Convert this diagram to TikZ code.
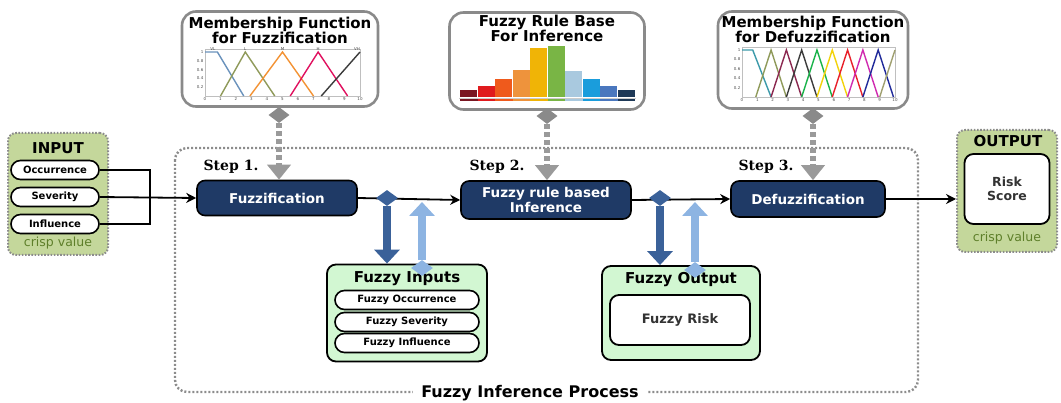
\documentclass[tikz,border=0pt]{standalone}
\usepackage{fontspec}
\setmainfont{DejaVu Sans}
\newfontfamily\stepfont{DejaVu Serif}
\usetikzlibrary{arrows.meta,shapes.geometric,shapes.misc,calc}

\definecolor{stepblue}{HTML}{1F3A66}
\definecolor{darkarrow}{HTML}{3A6199}
\definecolor{lightarrow}{HTML}{8DB4E2}
\definecolor{inputgreen}{HTML}{C4D79B}
\definecolor{crispgreen}{HTML}{5E7F2A}
\definecolor{fuzzygreen}{HTML}{D2F7D2}
\definecolor{panelgray}{HTML}{8A8A8A}
\definecolor{dashgray}{HTML}{9A9A9A}
\definecolor{framegray}{HTML}{8C8C8C}
% membership function colours
\definecolor{mfblue}{HTML}{6A92BC}
\definecolor{mfolive}{HTML}{8F9A5A}
\definecolor{mforange}{HTML}{F39233}
\definecolor{mfpink}{HTML}{E0115F}
\definecolor{mfdark}{HTML}{3C3C3C}
\definecolor{mfteal}{HTML}{3C9AAA}
\definecolor{mfwine}{HTML}{8B2850}
\definecolor{mfgreen}{HTML}{19B34A}
\definecolor{mfyellow}{HTML}{F2D20A}
\definecolor{mfred}{HTML}{E8202A}
\definecolor{mfmagenta}{HTML}{D02AB0}
\definecolor{mfnavy}{HTML}{202A9A}
\definecolor{mfkhaki}{HTML}{A0A070}
% rule base bars
\definecolor{barA}{HTML}{7A1622}
\definecolor{barB}{HTML}{E01B1E}
\definecolor{barC}{HTML}{EF5A1C}
\definecolor{barD}{HTML}{EE933C}
\definecolor{barE}{HTML}{F0B406}
\definecolor{barF}{HTML}{79B545}
\definecolor{barG}{HTML}{A9C9DF}
\definecolor{barH}{HTML}{1A9DDC}
\definecolor{barI}{HTML}{4A77BE}
\definecolor{barJ}{HTML}{1E3957}

\tikzset{
  stepbox/.style={draw=black, line width=1.6pt, fill=stepblue, rounded corners=8pt,
    text=white, font=\bfseries\fontsize{13.5}{15}\selectfont, align=center, inner sep=0pt},
  steplabel/.style={font=\stepfont\bfseries\fontsize{14}{14}\selectfont, inner sep=0pt},
  greenbox/.style={draw=framegray, line width=2pt, dash pattern=on 1.6pt off 1.6pt,
    fill=inputgreen, rounded corners=8pt, inner sep=0pt},
  fuzzbox/.style={draw=black, line width=1.8pt, fill=fuzzygreen, rounded corners=9pt, inner sep=0pt},
  whitebox/.style={draw=black, line width=1.8pt, fill=white, rounded corners=9pt, inner sep=0pt},
  pill/.style={shape=rounded rectangle, draw=black, line width=1.6pt, fill=white, inner sep=0pt,
    font=\bfseries\fontsize{10}{11}\selectfont},
  boxtitle/.style={font=\bfseries\fontsize{15}{16}\selectfont, inner sep=0pt},
  crisp/.style={text=crispgreen, font=\fontsize{12.5}{13}\selectfont, inner sep=0pt},
  panel/.style={draw=panelgray, line width=2.6pt, fill=white, rounded corners=14pt, inner sep=0pt},
  paneltitle/.style={font=\bfseries\fontsize{15}{15}\selectfont, align=center, inner sep=0pt},
  gdiam/.style={shape=diamond, fill=panelgray, inner sep=0pt, minimum width=21pt, minimum height=16pt},
  ddiam/.style={shape=diamond, fill=darkarrow, inner sep=0pt, minimum width=22pt, minimum height=16pt},
  ldiam/.style={shape=diamond, fill=lightarrow, inner sep=0pt, minimum width=22pt, minimum height=16pt},
  grayarr/.style={draw=dashgray, line width=6pt, dash pattern=on 5pt off 3pt,
    -{Triangle[length=15pt,width=23pt]}},
  darkarr/.style={draw=darkarrow, line width=8pt, -{Triangle[length=14pt,width=25pt]}},
  lightarr/.style={draw=lightarrow, line width=8pt, -{Triangle[length=14pt,width=25pt]}},
  flow/.style={draw=black, line width=1.8pt, -{Stealth[length=10pt,width=10pt]}},
  tick/.style={font=\fontsize{4}{4}\selectfont, inner sep=1pt, text=black!70},
}

\begin{document}
\begin{tikzpicture}[x=1pt,y=-1pt]
	\useasboundingbox (0,0) rectangle (1061,403);

	% fuzzy inference frame
	\draw[draw=framegray, line width=2.4pt, dash pattern=on 2pt off 2pt, rounded corners=12pt]
		(175,148) rectangle (918,392);
	\node[boxtitle, font=\bfseries\fontsize{16}{17}\selectfont, fill=white, inner xsep=8pt, inner ysep=2pt]
		(fip) at (530,393) {Fuzzy Inference Process};

	% input
	\node[greenbox, minimum width=100pt, minimum height=122pt] (inbox) at (58,194) {};
	\node[boxtitle] (intitle) at (58,148) {INPUT};
	\node[pill, minimum width=88pt, minimum height=19pt] (occ) at (55,170) {Occurrence};
	\node[pill, minimum width=88pt, minimum height=19pt] (sev) at (55,197) {Severity};
	\node[pill, minimum width=88pt, minimum height=19pt] (infl) at (55,224) {Influence};
	\node[crisp] (incrisp) at (58,243) {crisp value};
	\coordinate (jn) at (150,197);

	% steps
	\node[stepbox, minimum width=160pt, minimum height=35pt] (fuz) at (277,198) {Fuzzification};
	\node[stepbox, minimum width=170pt, minimum height=38pt] (frbi) at (546,200) {Fuzzy rule based\\Inference};
	\node[stepbox, minimum width=154pt, minimum height=36pt] (defuz) at (808,199) {Defuzzification};
	\node[steplabel] (s1) at (231,167) {Step 1.};
	\node[steplabel] (s2) at (497,167) {Step 2.};
	\node[steplabel] (s3) at (766,167) {Step 3.};

	% output
	\node[greenbox, minimum width=100pt, minimum height=122pt] (outbox) at (1007,191) {};
	\node[boxtitle] (outtitle) at (1008,141) {OUTPUT};
	\node[whitebox, minimum width=85pt, minimum height=70pt, align=center,
		font=\bfseries\fontsize{12.5}{14.5}\selectfont, text=black!80] (score) at (1007,189) {Risk\\Score};
	\node[crisp] (outcrisp) at (1007,238) {crisp value};

	% fuzzy inputs / outputs
	\node[fuzzbox, minimum width=160pt, minimum height=97pt] (fin) at (407,313) {};
	\node[boxtitle] (fintitle) at (407,279) {Fuzzy Inputs};
	\node[pill, minimum width=144pt, minimum height=19pt] (focc) at (407,300) {Fuzzy Occurrence};
	\node[pill, minimum width=144pt, minimum height=19pt] (fsev) at (407,322) {Fuzzy Severity};
	\node[pill, minimum width=144pt, minimum height=19pt] (finf) at (407,343) {Fuzzy Influence};

	\node[fuzzbox, minimum width=158pt, minimum height=94pt] (fout) at (681,313) {};
	\node[boxtitle] (fouttitle) at (681,280) {Fuzzy Output};
	\node[whitebox, minimum width=140pt, minimum height=50pt,
		font=\bfseries\fontsize{13}{14}\selectfont, text=black!80] (frisk) at (680,320) {Fuzzy Risk};

	% main flow
	\draw[line width=2pt] (occ.east) -| (jn) |- (infl.east);
	\draw[flow] (sev.east) -- (fuz.west);
	\draw[flow] (fuz.east) -- (frbi.west);
	\draw[flow] (frbi.east) -- (defuz.west);
	\draw[flow] (defuz.east) -- (defuz.east -| outbox.west);

	% to and from the fuzzy sets
	\node[ddiam] (dd1) at (387,198) {};
	\node[ddiam] (dd2) at (660,198) {};
	\node[ldiam] (ld1) at (422,268) {};
	\node[ldiam] (ld2) at (695,270) {};
	\draw[darkarr] (dd1.south) -- (dd1 |- fin.north);
	\draw[darkarr] (dd2.south) -- (dd2 |- fout.north);
	\draw[lightarr] (ld1.north) -- ($(ld1 |- fuz.east)+(0,4)$);
	\draw[lightarr] (ld2.north) -- ($(ld2 |- frbi.east)+(0,2)$);

	% membership function for fuzzification
	\node[panel, minimum width=196pt, minimum height=95pt] (p1) at (280,59) {};
	\node[paneltitle] (p1t) at (280,30) {Membership Function\\for Fuzzification};
	\begin{scope}[shift={(205,96)}, x=15.5pt, y=44pt, line width=1.4pt]
		\draw[line width=0.3pt, gray!50] (0,0) rectangle (10,1.06);
		\foreach \k in {0,...,10}
			\node[tick, below] (ax\k) at (\k,0) {\k};
		\foreach \v in {0.2,0.4,0.6,0.8}
			\node[tick, left] (ay\v) at (0,\v) {\v};
		\node[tick, left] (ay1) at (0,1) {1};
		\draw[mfblue] (0,1) -- (0.8,1) -- (2.5,0);
		\draw[mfolive] (1,0) -- (2.6,1) -- (4.5,0);
		\draw[mforange] (2.9,0) -- (5,1) -- (7,0);
		\draw[mfpink] (5.5,0) -- (7.3,1) -- (9.2,0);
		\draw[mfdark] (7.5,0) -- (10,1);
		\node[tick, above] (vl) at (0.5,1) {VL};
		\node[tick, above] (lo) at (2.6,1) {L};
		\node[tick, above] (me) at (5,1) {M};
		\node[tick, above] (hi) at (7.3,1) {H};
		\node[tick, above] (vh) at (9.8,1) {VH};
	\end{scope}
	\node[gdiam] (d1) at (279,115) {};
	\draw[grayarr] (d1.south) -- (d1 |- fuz.north);

	% fuzzy rule base
	\node[panel, minimum width=195pt, minimum height=97pt] (p2) at (547,61) {};
	\node[paneltitle] (p2t) at (547,28) {Fuzzy Rule Base\\For Inference};
	\foreach \h/\c [count=\i from 0] in {7/barA,11/barB,18/barC,27/barD,49/barE,51/barF,26/barG,18/barH,11/barI,7/barJ} {
		\fill[\c] (460+\i*17.5,97) rectangle ++(17,-\h);
		\fill[\c] (460+\i*17.5,99.5) rectangle ++(17.5,1.6);
	}
	\draw[line width=0.4pt, gray!40] (459,98.2) -- (636,98.2);
	\node[gdiam] (d2) at (547,116) {};
	\draw[grayarr] (d2.south) -- (d2 |- frbi.north);

	% membership function for defuzzification
	\node[panel, minimum width=190pt, minimum height=97pt] (p3) at (813,60) {};
	\node[paneltitle] (p3t) at (813,29) {Membership Function\\for Defuzzification};
	\begin{scope}[shift={(742,97)}, x=15.3pt, y=47pt, line width=1.4pt]
		\draw[line width=0.3pt, gray!50] (0,0) rectangle (10,1.06);
		\foreach \k in {0,...,10}
			\node[tick, below] (bx\k) at (\k,0) {\k};
		\foreach \v in {0.2,0.4,0.6,0.8}
			\node[tick, left] (by\v) at (0,\v) {\v};
		\node[tick, left] (by1) at (0,1) {1};
		\draw[mfteal] (0,1) -- (0.7,1) -- (1.9,0);
		\foreach \p/\c in {1.9/mfolive,2.9/mfwine,3.9/mfdark,4.9/mfgreen,5.9/mfyellow,6.9/mfred,7.9/mfmagenta,8.9/mfnavy}
			\draw[\c] (\p-1,0) -- (\p,1) -- (\p+1,0);
		\draw[mfkhaki] (9,0) -- (10,1);
	\end{scope}
	\node[gdiam] (d3) at (813,116) {};
	\draw[grayarr] (d3.south) -- (d3 |- defuz.north);
\end{tikzpicture}
\end{document}
